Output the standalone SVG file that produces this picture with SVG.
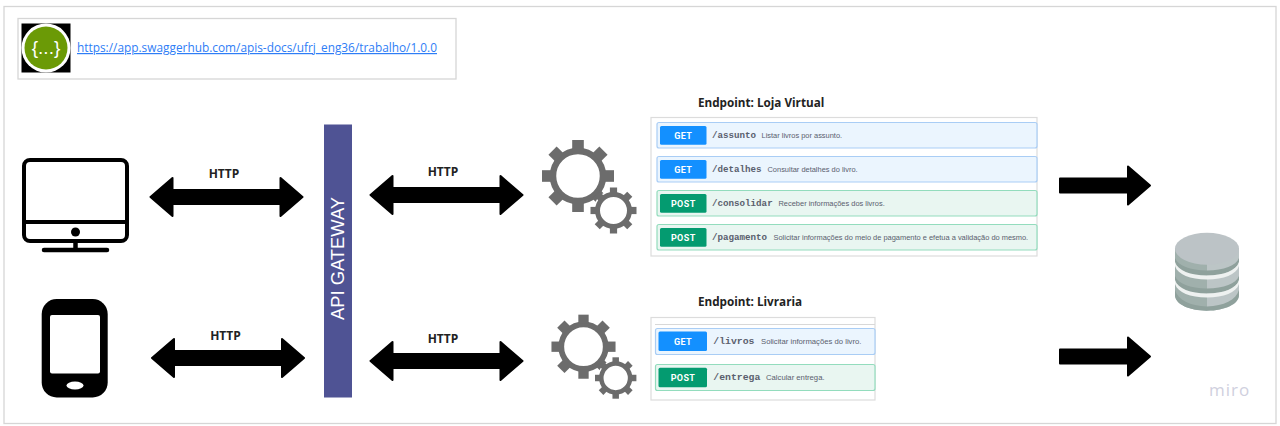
<svg xmlns="http://www.w3.org/2000/svg" xmlns:xlink="http://www.w3.org/1999/xlink" width="1280" height="426" viewBox="0 0 1280 426">
<style>
text{font-family:"Open Sans","Liberation Sans",sans-serif}
.frame{fill:#fff;stroke:#d6d6d6;stroke-width:1.3}
.arrow{fill:#000;stroke:#000;stroke-width:2;stroke-linejoin:round}
.http{font-size:12px;font-weight:700;fill:#222;text-anchor:middle}
.title{font-size:11.700px;font-weight:700;fill:#222}
.panel{fill:#fff;stroke:#dcdcdc;stroke-width:1.2}
.get{fill:#ebf5fe;stroke:#a9cdf5;stroke-width:1.2}
.post{fill:#e9f6f1;stroke:#93dcbd;stroke-width:1.2}
.bget{fill:#1390ff}
.bpost{fill:#049b70}
.btn{font-family:"Roboto","Liberation Sans",sans-serif;font-size:9px;font-weight:700;fill:#fff;text-anchor:middle;letter-spacing:.4px}
.path{font-family:"Liberation Mono",monospace;font-size:9.200px;font-weight:700;fill:#5a606e}
.desc{font-family:"Liberation Sans",sans-serif;font-size:7.440px;fill:#5a606e}
.gear{fill:none;stroke:#6c6c6c}
.tooth{fill:#6c6c6c}
.dark{fill:#8fa19c}
.light{fill:#eef1f0}
</style>
<defs>
<g id="gearB">
<circle class="gear" r="25" stroke-width="6.5"/>
<g class="tooth">
<rect x="-5.800" y="-36" width="11.600" height="10"/>
<rect x="-5.800" y="-36" width="11.600" height="10" transform="rotate(45)"/>
<rect x="-5.800" y="-36" width="11.600" height="10" transform="rotate(90)"/>
<rect x="-5.800" y="-36" width="11.600" height="10" transform="rotate(135)"/>
<rect x="-5.800" y="-36" width="11.600" height="10" transform="rotate(180)"/>
<rect x="-5.800" y="-36" width="11.600" height="10" transform="rotate(225)"/>
<rect x="-5.800" y="-36" width="11.600" height="10" transform="rotate(270)"/>
<rect x="-5.800" y="-36" width="11.600" height="10" transform="rotate(315)"/>
</g>
</g>
<g id="gearS">
<circle r="20" fill="#fff"/>
<circle class="gear" r="16" stroke-width="5"/>
<g class="tooth">
<rect x="-3.600" y="-23" width="7.200" height="6"/>
<rect x="-3.600" y="-23" width="7.200" height="6" transform="rotate(45)"/>
<rect x="-3.600" y="-23" width="7.200" height="6" transform="rotate(90)"/>
<rect x="-3.600" y="-23" width="7.200" height="6" transform="rotate(135)"/>
<rect x="-3.600" y="-23" width="7.200" height="6" transform="rotate(180)"/>
<rect x="-3.600" y="-23" width="7.200" height="6" transform="rotate(225)"/>
<rect x="-3.600" y="-23" width="7.200" height="6" transform="rotate(270)"/>
<rect x="-3.600" y="-23" width="7.200" height="6" transform="rotate(315)"/>
</g>
</g>
<path id="dbl" d="M-76 0L-54 -19V-7H54V-19L76 0L54 19V7H-54V19Z"/>
<path id="sgl" d="M-45 -7H23V-19L45 0L23 19V7H-45Z"/>
</defs>
<rect width="1280" height="426" fill="#fff"/>
<rect id="frame" class="frame" x="4" y="6.500" width="1272" height="417"/>

<g id="swagger-link">
<rect class="frame" x="18" y="18.500" width="438" height="60.500"/>
<rect x="21.500" y="23.500" width="49" height="49" fill="#000"/>
<circle cx="46" cy="48" r="24.500" fill="#fff"/>
<circle cx="46" cy="48" r="21.500" fill="#6b9a06"/>
<text x="46" y="54" font-size="19" fill="#fff" text-anchor="middle" style="font-family:'Liberation Sans',sans-serif">{...}</text>
<text x="77" y="52" font-size="12" fill="#2e7df6" text-decoration="underline" textLength="360" lengthAdjust="spacingAndGlyphs">https://app.swaggerhub.com/apis-docs/ufrj_eng36/trabalho/1.0.0</text>
</g>

<g id="desktop" fill="none" stroke="#000">
<rect x="24" y="160" width="103" height="81" rx="6" stroke-width="4"/>
<path d="M24 222H127" stroke-width="4"/>
<circle cx="75.500" cy="232" r="4.500" fill="#000" stroke="none"/>
<path d="M75.500 243V249" stroke-width="4.500"/>
<path d="M44 250H107" stroke-width="4.500" stroke-linecap="round"/>
</g>

<g id="mobile">
<rect x="41.700" y="299" width="66" height="98.500" rx="15" fill="#000"/>
<rect x="50" y="315" width="50" height="58.500" rx="2" fill="#fff"/>
<ellipse cx="75" cy="385.500" rx="8.500" ry="4" fill="#fff"/>
</g>

<g id="api-gateway">
<rect x="324" y="124.500" width="28" height="273" fill="#4f5394"/>
<text transform="translate(344.300,258.500) rotate(-90)" font-size="19" fill="#fff" text-anchor="middle" textLength="123" lengthAdjust="spacingAndGlyphs" style="font-family:'Liberation Sans',sans-serif">API GATEWAY</text>
</g>

<g id="gears-loja">
<use xlink:href="#gearB" href="#gearB" x="578" y="176"/>
<use xlink:href="#gearS" href="#gearS" x="613.500" y="210.500"/>
</g>
<g id="gears-livraria">
<use xlink:href="#gearB" href="#gearB" transform="translate(583.500,346.700) scale(0.89)"/>
<use xlink:href="#gearS" href="#gearS" transform="translate(615.700,378) scale(0.9)"/>
</g>

<g id="endpoint-loja">
<text class="title" x="698" y="107">Endpoint: Loja Virtual</text>
<rect class="panel" x="651" y="117.500" width="386" height="138.500"/>
<rect class="get" x="657" y="122.500" width="380" height="25.500" rx="2"/>
<rect class="bget" x="660" y="126" width="46.500" height="18.700" rx="1.500"/>
<text class="btn" x="683.300" y="138.500">GET</text>
<text class="path" x="712" y="138">/assunto</text>
<text class="desc" x="761.500" y="138">Listar livros por assunto.</text>
<rect class="get" x="657" y="156.500" width="380" height="25.500" rx="2"/>
<rect class="bget" x="660" y="160" width="46.500" height="18.700" rx="1.500"/>
<text class="btn" x="683.300" y="172.500">GET</text>
<text class="path" x="712" y="172">/detalhes</text>
<text class="desc" x="767.500" y="172">Consultar detalhes do livro.</text>
<rect class="post" x="657" y="190.500" width="380" height="25.500" rx="2"/>
<rect class="bpost" x="660" y="194" width="46.500" height="18.700" rx="1.500"/>
<text class="btn" x="683.300" y="206.500">POST</text>
<text class="path" x="712" y="206">/consolidar</text>
<text class="desc" x="778.500" y="206">Receber informações dos livros.</text>
<rect class="post" x="657" y="224.500" width="380" height="25.500" rx="2"/>
<rect class="bpost" x="660" y="228" width="46.500" height="18.700" rx="1.500"/>
<text class="btn" x="683.300" y="240.500">POST</text>
<text class="path" x="712" y="240">/pagamento</text>
<text class="desc" x="773.500" y="240">Solicitar informações do meio de pagamento e efetua a validação do mesmo.</text>
</g>

<g id="endpoint-livraria">
<text class="title" x="698" y="306">Endpoint: Livraria</text>
<rect class="panel" x="651" y="317.500" width="224" height="82.500"/>
<path d="M655 324.500H875" stroke="#d8d8d8" stroke-width="1"/>
<rect class="get" x="655.500" y="328.500" width="219.500" height="26" rx="2"/>
<rect class="bget" x="658.500" y="331.500" width="48.500" height="19.500" rx="1.500"/>
<text class="btn" x="683" y="344.500">GET</text>
<text class="path" x="713.300" y="344" style="font-size:9.800px">/livros</text>
<text class="desc" x="761" y="344" style="font-size:7.700px">Solicitar informações do livro.</text>
<rect class="post" x="655.500" y="364.500" width="219.500" height="26" rx="2"/>
<rect class="bpost" x="658.500" y="367.700" width="48.500" height="19.500" rx="1.500"/>
<text class="btn" x="683" y="380.500">POST</text>
<text class="path" x="713.300" y="380" style="font-size:9.800px">/entrega</text>
<text class="desc" x="766" y="380" style="font-size:7.700px">Calcular entrega.</text>
</g>

<g id="database">
<path d="M1175 248V295C1175 304 1189 310.700 1207 310.700V248Z" fill="#a0b0ac"/>
<path d="M1207 248V310.700C1225 310.700 1239 304 1239 295V248Z" fill="#bcc5c6"/>
<path class="dark" d="M1175 290C1178 300 1190 306 1207 306.500C1224 306 1236 300 1239 290V295C1239 304 1225 310.700 1207 310.700C1189 310.700 1175 304 1175 295Z"/>
<path class="dark" d="M1175 258C1178 266 1190 270 1207 270.500C1224 270 1236 266 1239 258V262C1236 271 1224 275 1207 275.500C1190 275 1178 271 1175 262Z"/>
<path class="light" d="M1175 262C1178 271 1190 275 1207 275.500C1224 275 1236 271 1239 262V266C1236 275 1224 279 1207 279.500C1190 279 1178 275 1175 266Z"/>
<path class="dark" d="M1175 276C1178 284 1190 288 1207 288.500C1224 288 1236 284 1239 276V280C1236 289 1224 293 1207 293.500C1190 293 1178 289 1175 280Z"/>
<path class="light" d="M1175 280C1178 289 1190 293 1207 293.500C1224 293 1236 289 1239 280V284C1236 293 1224 297 1207 297.500C1190 297 1178 293 1175 284Z"/>
<ellipse cx="1207" cy="248.700" rx="32" ry="16" fill="#bcc3c6"/>
</g>

<g id="connectors">
<use class="arrow" xlink:href="#dbl" href="#dbl" x="226.500" y="197"/>
<use class="arrow" xlink:href="#dbl" href="#dbl" x="446.500" y="195"/>
<use class="arrow" xlink:href="#dbl" href="#dbl" x="228" y="358"/>
<use class="arrow" xlink:href="#dbl" href="#dbl" x="446.500" y="361"/>
<use class="arrow" xlink:href="#sgl" href="#sgl" x="1105" y="185.500"/>
<use class="arrow" xlink:href="#sgl" href="#sgl" x="1105" y="356.500"/>
<text class="http" x="224" y="178">HTTP</text>
<text class="http" x="443" y="176">HTTP</text>
<text class="http" x="225.500" y="340">HTTP</text>
<text class="http" x="443" y="343">HTTP</text>
</g>

<text id="miro" x="1209" y="396" font-size="17" letter-spacing="1" fill="#d0d0de">miro</text>
</svg>
